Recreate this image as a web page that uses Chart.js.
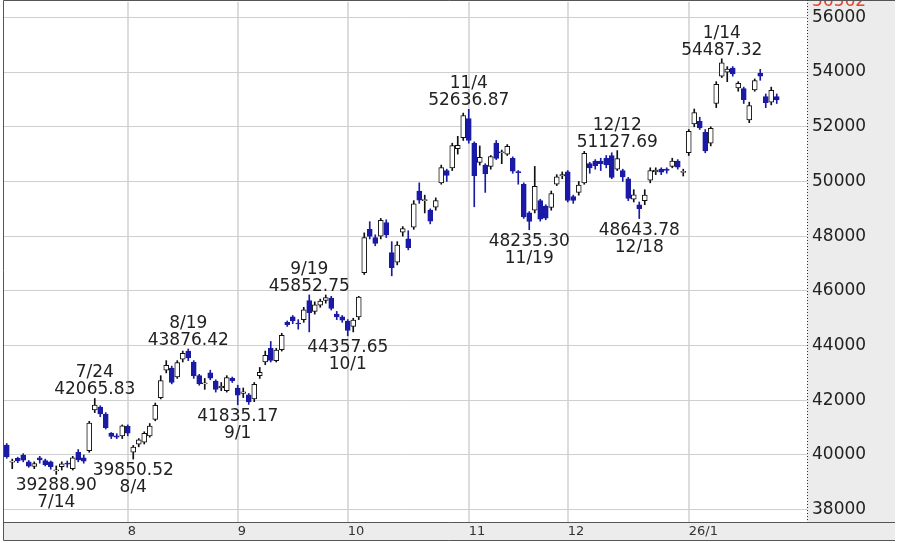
<!DOCTYPE html>
<html lang="ja">

<head>
  <meta charset="UTF-8" />
  <title>日経平均 日足</title>
  <script src="https://cdn.jsdelivr.net/npm/chart.js"></script>
  <style>
    html,
    body {
      margin: 0;
      padding: 0;
      background: #fff;
    }

    #chartBox {
      width: 900px;
      height: 543px;
    }
  </style>
</head>

<body>
  <div id="chartBox">
    <canvas id="candleChart" width="900" height="543"></canvas>
  </div>

  <script>
    // trading days 2025/7/1 - 2026/1/28
    const dates = [
      '7/1', '7/2', '7/3', '7/4', '7/7', '7/8', '7/9', '7/10', '7/11', '7/14', '7/15', '7/16', '7/17', '7/18', '7/22', '7/23', '7/24', '7/25', '7/28', '7/29', '7/30', '7/31',
      '8/1', '8/4', '8/5', '8/6', '8/7', '8/8', '8/12', '8/13', '8/14', '8/15', '8/18', '8/19', '8/20', '8/21', '8/22', '8/25', '8/26', '8/27', '8/28', '8/29',
      '9/1', '9/2', '9/3', '9/4', '9/5', '9/8', '9/9', '9/10', '9/11', '9/12', '9/16', '9/17', '9/18', '9/19', '9/22', '9/24', '9/25', '9/26', '9/29', '9/30',
      '10/1', '10/2', '10/3', '10/6', '10/7', '10/8', '10/9', '10/10', '10/14', '10/15', '10/16', '10/17', '10/20', '10/21', '10/22', '10/23', '10/24', '10/27', '10/28', '10/29', '10/30', '10/31',
      '11/4', '11/5', '11/6', '11/7', '11/10', '11/11', '11/12', '11/13', '11/14', '11/17', '11/18', '11/19', '11/20', '11/21', '11/25', '11/26', '11/27', '11/28',
      '12/1', '12/2', '12/3', '12/4', '12/5', '12/8', '12/9', '12/10', '12/11', '12/12', '12/15', '12/16', '12/17', '12/18', '12/19', '12/22', '12/23', '12/24', '12/25', '12/26', '12/29', '12/30',
      '1/5', '1/6', '1/7', '1/8', '1/9', '1/13', '1/14', '1/15', '1/16', '1/19', '1/20', '1/21', '1/22', '1/23', '1/26', '1/27', '1/28'
    ];

    const opens = [
      40360, 39740, 39880, 40000, 39750, 39580, 39900, 39800, 39750, 39420, 39570, 39700, 39500, 40100, 39900, 40160, 41650, 41750, 41500, 40800, 40700, 40700,
      41050, 40100, 40400, 40470, 40700, 41300, 42100, 43100, 43180, 42850, 43500, 43800, 43400, 42900, 42600, 43000, 42700, 42450, 42350, 42800,
      42450, 42250, 42200, 42050, 42900, 43400, 43900, 43450, 43850, 44850, 45050, 44800, 44950, 45650, 45250, 45480, 45650, 45740, 45150, 45050,
      44900, 44700, 45050, 46670, 48250, 47950, 48000, 48500, 47400, 47050, 48150, 47900, 48330, 49650, 49300, 48950, 49060, 49950, 50400, 50500, 51200, 51600,
      52300, 51400, 50700, 50600, 50550, 51400, 51050, 51000, 50850, 50350, 49900, 48850, 48950, 49300, 49100, 49050, 49900, 50200,
      50350, 49450, 49600, 49950, 50650, 50750, 50750, 50850, 50950, 50450, 50400, 50100, 49350, 49150, 49300, 50050, 50350, 50450, 50450, 50550, 50750, 50330,
      51050, 52100, 52200, 51800, 51400, 52850, 53850, 54000, 54150, 53420, 53400, 52250, 53350, 53950, 53100, 52900, 53100
    ];

    const highs = [
      40420, 39850, 39920, 40050, 39800, 39750, 39950, 39850, 39780, 39600, 39750, 39780, 39950, 40200, 40000, 41230, 42065.83, 41800, 41550, 40820, 40780, 41100,
      41100, 40350, 40600, 40850, 41150, 41900, 42900, 43450, 43250, 43450, 43800, 43876.42, 43450, 42950, 42800, 43100, 42750, 42650, 42900, 42850,
      42550, 42450, 42250, 42650, 43200, 43800, 44150, 43900, 44450, 44900, 45100, 44950, 45400, 45852.75, 45600, 45700, 45850, 45800, 45250, 45100,
      44950, 45000, 45800, 48120, 48530, 48050, 48650, 48600, 47800, 47800, 48350, 48200, 49300, 49950, 49500, 49000, 49400, 50600, 50450, 51400, 51650, 52500,
      52636.87, 51450, 51300, 50650, 50950, 51500, 51150, 51350, 50900, 50400, 49950, 48900, 50550, 49350, 49150, 49650, 50250, 50350,
      50400, 49500, 50000, 51100, 50700, 50800, 50850, 50950, 51050, 51127.69, 50450, 50150, 49700, 49250, 49700, 50500, 50500, 50500, 50500, 50850, 50800, 50450,
      51900, 52650, 52350, 51900, 52000, 53650, 54487.32, 54200, 54200, 53650, 53450, 52900, 53750, 54100, 53200, 53450, 53200
    ];

    const lows = [
      39880, 39500, 39720, 39750, 39550, 39500, 39700, 39600, 39480, 39288.90, 39450, 39550, 39450, 39750, 39700, 40100, 41550, 41400, 40950, 40600, 40600, 40600,
      40700, 39850.52, 40300, 40400, 40650, 41250, 42050, 43000, 42600, 42800, 43400, 43450, 42800, 42550, 42400, 42750, 42300, 42350, 42300, 42650,
      41835.17, 42100, 41850, 41950, 42800, 43300, 43400, 43400, 43800, 44700, 44800, 44600, 44850, 44500, 45150, 45400, 45550, 45300, 44950, 44850,
      44357.65, 44500, 44950, 46600, 47900, 47650, 47900, 47950, 46550, 46950, 48000, 47500, 48250, 49200, 48850, 48450, 48950, 49900, 50000, 50400, 51000, 51500,
      51400, 49075, 50600, 49600, 50450, 50800, 50650, 50950, 50300, 49900, 48650, 48235.30, 48850, 48550, 48600, 48950, 49850, 50100,
      49250, 49200, 49500, 49900, 50300, 50450, 50400, 50500, 50100, 50400, 50000, 49300, 49250, 48643.78, 49150, 49950, 50250, 50250, 50300, 50500, 50450, 50200,
      50950, 52000, 51900, 51050, 51300, 52700, 53800, 53650, 53850, 53300, 52850, 52150, 53300, 53700, 52700, 52800, 52850
    ];

    const closes = [
      39930, 39780, 39785, 39810, 39590, 39690, 39820, 39650, 39570, 39460, 39678, 39663, 39900, 39819, 39775, 41171, 41826, 41500, 41000, 40675, 40655, 41070,
      40800, 40290, 40550, 40795, 41059, 41820, 42718, 43275, 42649, 43378, 43714, 43546, 42889, 42610, 42633, 42808, 42394, 42520, 42829, 42718,
      42189, 42310, 41939, 42580, 43019, 43644, 43459, 43838, 44372, 44768, 44902, 44790, 45303, 45200, 45494, 45630, 45755, 45355, 45044, 44933,
      44551, 44937, 45770, 47945, 47990, 47735, 48580, 48050, 46847, 47673, 48278, 47582, 49186, 49316, 49308, 48550, 49300, 50512, 50219, 51308, 51326, 52411,
      51497, 50212, 50884, 50276, 50912, 50843, 51063, 51282, 50377, 50324, 48703, 48538, 49824, 48626, 48660, 49559, 50167, 50254,
      49303, 49303, 49865, 51028, 50492, 50582, 50655, 50603, 50149, 50837, 50168, 49383, 49512, 49002, 49507, 50402, 50413, 50344, 50408, 50750, 50527, 50340,
      51833, 52518, 51962, 51117, 51940, 53549, 54341, 54110, 53936, 53584, 52991, 52775, 53689, 53847, 52885, 53334, 52980
    ];

    // bottom axis: first trading day of each month
    const monthStarts = ['8/1', '9/1', '10/1', '11/4', '12/1', '1/5'];
    const monthLabels = ['8', '9', '10', '11', '12', '26/1'];

    // right axis
    const yTicks = [38000, 40000, 42000, 44000, 46000, 48000, 50000, 52000, 54000, 56000];
    const yMin = 37550;
    const yMax = 56562;

    // high / low marks
    const markDates = ['7/14', '7/24', '8/4', '8/19', '9/1', '9/19', '10/1', '11/4', '11/19', '12/12', '12/18', '1/14'];
    const markValues = [39288.90, 42065.83, 39850.52, 43876.42, 41835.17, 45852.75, 44357.65, 52636.87, 48235.30, 51127.69, 48643.78, 54487.32];
    const markSides = ['low', 'high', 'low', 'high', 'low', 'high', 'low', 'high', 'low', 'high', 'low', 'high'];

    const BLUE = '#1a1aa6';
    const FONT = '"DejaVu Sans", sans-serif';
    const emptySlots = 5;

    const labels = dates.concat(Array(emptySlots).fill(''));
    const isUp = i => closes[i] >= opens[i];
    const monthIdx = monthStarts.map(d => dates.indexOf(d));

    // no extra room for half labels at the ends of the axes
    const noPad = s => {
      s.paddingTop = 0;
      s.paddingBottom = 0;
      s.paddingLeft = 0;
      s.paddingRight = 0;
    };

    const framePlugin = {
      id: 'frame',
      beforeDraw(chart) {
        const ctx = chart.ctx;
        const area = chart.chartArea;
        ctx.save();
        ctx.fillStyle = '#fff';
        ctx.fillRect(0, 0, chart.width, chart.height);
        ctx.fillStyle = '#ececec';
        ctx.fillRect(area.right, 0, 895 - area.right, area.bottom);
        ctx.fillRect(area.left, area.bottom, 895 - area.left, 18);
        ctx.restore();
      },
      afterDraw(chart) {
        const ctx = chart.ctx;
        const area = chart.chartArea;
        const bottom = area.bottom + 18.5;
        ctx.save();
        ctx.strokeStyle = '#555';
        ctx.lineWidth = 1;
        ctx.beginPath();
        ctx.moveTo(895, 0.5);
        ctx.lineTo(3.5, 0.5);
        ctx.lineTo(3.5, bottom);
        ctx.lineTo(895, bottom);
        ctx.moveTo(3.5, area.bottom + 0.5);
        ctx.lineTo(895, area.bottom + 0.5);
        ctx.stroke();
        ctx.setLineDash([1, 2]);
        ctx.strokeStyle = '#333';
        ctx.beginPath();
        ctx.moveTo(area.right + 0.5, 0);
        ctx.lineTo(area.right + 0.5, area.bottom);
        ctx.stroke();
        ctx.restore();
      }
    };

    const marksPlugin = {
      id: 'marks',
      afterDatasetsDraw(chart) {
        const ctx = chart.ctx;
        const xs = chart.scales.x;
        const ys = chart.scales.y;
        ctx.save();
        ctx.font = '17px ' + FONT;
        ctx.fillStyle = '#222';
        ctx.textAlign = 'center';
        ctx.textBaseline = 'alphabetic';
        markDates.forEach((d, k) => {
          const x = xs.getPixelForValue(dates.indexOf(d));
          const y = ys.getPixelForValue(markValues[k]);
          const txt = markValues[k].toFixed(2);
          if (markSides[k] === 'high') {
            ctx.fillText(txt, x, y - 4);
            ctx.fillText(d, x, y - 21);
          } else {
            ctx.fillText(txt, x, y + 16);
            ctx.fillText(d, x, y + 33);
          }
        });
        ctx.restore();
      }
    };

    new Chart(document.getElementById('candleChart'), {
      type: 'bar',
      data: {
        labels: labels,
        datasets: [{
          // bodies
          data: dates.map((d, i) => [opens[i], closes[i]]),
          backgroundColor: c => isUp(c.dataIndex) ? '#fff' : BLUE,
          borderColor: c => isUp(c.dataIndex) ? '#111' : BLUE,
          borderWidth: 1,
          borderSkipped: false,
          barThickness: 5,
          minBarLength: 1,
          grouped: false,
          order: 0
        }, {
          // wicks
          data: dates.map((d, i) => [lows[i], highs[i]]),
          backgroundColor: c => isUp(c.dataIndex) ? '#111' : BLUE,
          borderWidth: 0,
          barThickness: 1,
          grouped: false,
          order: 1
        }]
      },
      options: {
        responsive: false,
        animation: false,
        events: [],
        layout: {
          autoPadding: false,
          padding: { left: 4, right: 5, top: 2, bottom: 3 }
        },
        plugins: {
          legend: { display: false },
          tooltip: { enabled: false }
        },
        scales: {
          x: {
            type: 'category',
            offset: true,
            afterFit: s => { s.height = 18; noPad(s); },
            border: { display: false },
            grid: {
              offset: false,
              drawTicks: false,
              lineWidth: 2,
              color: c => monthIdx.includes(c.index) ? '#dcdcdc' : 'rgba(0,0,0,0)'
            },
            ticks: {
              autoSkip: false,
              maxRotation: 0,
              minRotation: 0,
              align: 'start',
              padding: 2,
              color: '#333',
              font: { family: FONT, size: 13 },
              callback: (v, i) => {
                const k = monthIdx.indexOf(i);
                return k >= 0 ? monthLabels[k] : '';
              }
            }
          },
          y: {
            type: 'linear',
            position: 'right',
            min: yMin,
            max: yMax,
            afterFit: s => { s.width = 88; noPad(s); },
            afterBuildTicks: s => {
              s.ticks = yTicks.concat([yMax]).map(v => ({ value: v }));
            },
            border: { display: false },
            grid: {
              drawTicks: false,
              lineWidth: 1,
              color: c => c.tick && c.tick.value === yMax ? 'rgba(0,0,0,0)' : '#cfcfcf'
            },
            ticks: {
              padding: 5,
              font: { family: FONT, size: 17 },
              color: c => c.tick && c.tick.value === yMax ? '#e8402a' : '#222',
              callback: v => String(v)
            }
          }
        }
      },
      plugins: [framePlugin, marksPlugin]
    });
  </script>
</body>

</html>
